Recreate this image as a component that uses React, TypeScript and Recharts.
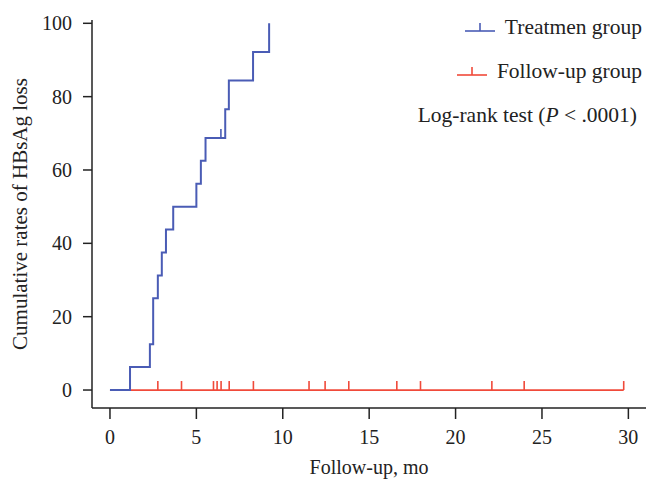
import React from "react";
import { ComposedChart, Line, Scatter, XAxis, YAxis } from "recharts";

// Kaplan-Meier style cumulative curves (months, %)
const treatTime = [0, 1.16, 2.31, 2.5, 2.77, 3.0, 3.24, 3.66, 5.0, 5.26, 5.53, 6.67, 6.88, 8.28, 9.21];
const treatRate = [0, 6.25, 12.5, 25, 31.25, 37.5, 43.75, 50, 56.25, 62.5, 68.75, 76.56, 84.38, 92.19, 100];
const treatCensorTime = [6.42];
const treatCensorRate = [68.75];

const followTime = [0, 29.73];
const followRate = [0, 0];
const followCensorTime = [2.77, 4.14, 5.99, 6.2, 6.43, 6.9, 8.3, 11.52, 12.45, 13.82, 16.6, 17.97, 22.1, 23.97, 29.73];

const xTicks = [0, 5, 10, 15, 20, 25, 30];
const yTicks = [0, 20, 40, 60, 80, 100];

const seriesNames = ["Treatmen group", "Follow-up group"];
const testLabel = "Log-rank test (";

const BLUE = "#4a5cb5";
const RED = "#f04a3a";
const FONT = "'Liberation Serif', 'Times New Roman', serif";

const toPoints = (t: number[], v: number[]) => t.map((x, i) => ({ t: x, v: v[i] }));

const treatData = toPoints(treatTime, treatRate);
const treatCensor = toPoints(treatCensorTime, treatCensorRate);
const followData = toPoints(followTime, followRate);
const followCensor = followCensorTime.map((x) => ({ t: x, v: 0 }));

const censorMark = (color: string) => (props: any) => (
  <line x1={props.cx} y1={props.cy} x2={props.cx} y2={props.cy - 9} stroke={color} strokeWidth={1.6} />
);

function LegendIcon({ color }: { color: string }) {
  return (
    <svg width={30} height={14} style={{ marginRight: 10 }}>
      <line x1={0} y1={11} x2={30} y2={11} stroke={color} strokeWidth={1.6} />
      <line x1={15} y1={11} x2={15} y2={3} stroke={color} strokeWidth={1.6} />
    </svg>
  );
}

export default function App() {
  const tickStyle = { fill: "#222", fontSize: 20, fontFamily: FONT };
  return (
    <div style={{ position: "absolute", left: 0, top: 0, width: 646, height: 481, background: "#fff" }}>
      <ComposedChart width={646} height={481} margin={{ top: 20, right: 0, bottom: 0, left: 0 }}>
        <XAxis
          type="number"
          dataKey="t"
          domain={[-1.04, 31.02]}
          ticks={xTicks}
          allowDataOverflow
          height={73}
          tickSize={11}
          tickMargin={11}
          tick={tickStyle}
          axisLine={{ stroke: "#222", strokeWidth: 1.5 }}
          tickLine={{ stroke: "#222", strokeWidth: 1.5 }}
          label={{ value: "Follow-up, mo", position: "insideBottom", offset: 7, style: { fill: "#222", fontSize: 20, fontFamily: FONT } }}
        />
        <YAxis
          type="number"
          dataKey="v"
          domain={[-4.9, 100.9]}
          ticks={yTicks}
          allowDataOverflow
          width={92}
          tickSize={9}
          tickMargin={11}
          tick={tickStyle}
          axisLine={{ stroke: "#222", strokeWidth: 1.5 }}
          tickLine={{ stroke: "#222", strokeWidth: 1.5 }}
          label={{
            value: "Cumulative rates of HBsAg loss",
            angle: -90,
            position: "insideLeft",
            offset: 20,
            style: { textAnchor: "middle", fill: "#222", fontSize: 21, fontFamily: FONT },
          }}
        />
        <Line data={followData} dataKey="v" type="stepAfter" stroke={RED} strokeWidth={1.7} dot={false} activeDot={false} isAnimationActive={false} />
        <Scatter data={followCensor} dataKey="v" shape={censorMark(RED)} isAnimationActive={false} />
        <Line data={treatData} dataKey="v" type="stepAfter" stroke={BLUE} strokeWidth={2} dot={false} activeDot={false} isAnimationActive={false} />
        <Scatter data={treatCensor} dataKey="v" shape={censorMark(BLUE)} isAnimationActive={false} />
      </ComposedChart>
      <div
        style={{
          position: "absolute",
          top: 5,
          right: 4,
          display: "flex",
          flexDirection: "column",
          alignItems: "flex-end",
          fontFamily: FONT,
          fontSize: 21.5,
          color: "#222",
        }}
      >
        {seriesNames.map((name, i) => (
          <div key={name} style={{ height: 44, display: "flex", alignItems: "center" }}>
            <LegendIcon color={i === 0 ? BLUE : RED} />
            <span>{name}</span>
          </div>
        ))}
        <div style={{ height: 44, display: "flex", alignItems: "center", paddingRight: 5 }}>
          <span>
            {testLabel}
            <i>P</i> &lt; .0001)
          </span>
        </div>
      </div>
    </div>
  );
}
